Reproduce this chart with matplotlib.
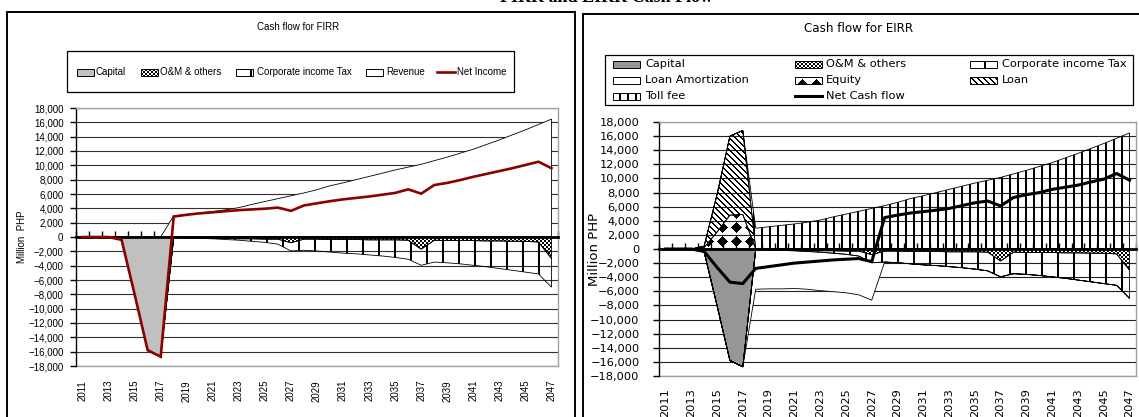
import numpy as np
import matplotlib
matplotlib.use("Agg")
import matplotlib.pyplot as plt
from matplotlib import font_manager
from matplotlib.patches import Rectangle, Polygon

# ---------------------------------------------------------------- data
years = list(range(2011, 2048))

capital = [0, 0, 0, -400, -8000, -15800, -16700] + [0] * 30

om_others = [0, 0, 0, 0, 0, 0, 0,
             -100, -150, -150, -200, -200, -250, -250, -300, -300, -800,
             -300, -300, -350, -350, -350, -400, -400, -400, -450, -1700,
             -450, -500, -500, -500, -550, -550, -600, -600, -700, -3000]

corp_tax = [0, 0, 0, 0, 0, 0, 0,
            0, 0, -50, -50, -150, -200, -350, -450, -700, -1150,
            -1550, -1650, -1750, -1900, -2000, -2100, -2250, -2450, -2650, -2250,
            -3050, -3100, -3250, -3450, -3600, -3850, -4050, -4300, -4450, -4000]

revenue = [0, 0, 0, 0, 0, 0, 0,
           2950, 3150, 3350, 3550, 3800, 4100, 4550, 4950, 5350, 5750,
           6150, 6600, 7150, 7550, 8000, 8450, 8900, 9350, 9750, 10150,
           10650, 11150, 11700, 12250, 12900, 13550, 14250, 14950, 15700, 16450]

net_income = [0, 0, 0, -400, -8000, -15800, -16700,
              2850, 3100, 3300, 3450, 3600, 3750, 3850, 3950, 4100, 3650,
              4400, 4700, 5000, 5250, 5450, 5650, 5900, 6150, 6650, 6050,
              7250, 7550, 7950, 8400, 8800, 9200, 9600, 10050, 10500, 9600]

toll_fee = revenue

loan_amortization = [0] * 7 + [-5600, -5500, -5450, -5350, -5350, -5450,
                               -5450, -5450, -5500, -5300] + [0] * 20

equity = [0, 0, 0, 200, 2400, 4800, 4900] + [0] * 30
loan = [0, 0, 0, 200, 5300, 11200, 11900] + [0] * 30

net_cash_flow = [0, 0, 0, -350, -2600, -4700, -4900,
                 -2750, -2500, -2250, -2000, -1850, -1700, -1550, -1450, -1350, -1800,
                 4450, 4800, 5100, 5300, 5500, 5750, 6150, 6550, 6800, 6100,
                 7300, 7700, 8000, 8450, 8750, 9050, 9500, 9900, 10700, 9750]

yticks = list(range(-18000, 18001, 2000))
year_labels = [str(y) for y in years[::2]]

# ---------------------------------------------------------------- fonts
available = {f.name for f in font_manager.fontManager.ttflist}


def pick(*names):
    for name in names:
        if name in available:
            return name
    return "DejaVu Sans"


NARROW = pick("Liberation Sans Narrow", "Arial Narrow", "Liberation Sans")
FS_L = 8.0 if "Narrow" in NARROW else 7.0
WIDE = "DejaVu Sans"
SERIF = pick("Liberation Serif", "DejaVu Serif")

# ---------------------------------------------------------------- figure
W, H = 1139, 417
fig = plt.figure(figsize=(W / 100, H / 100), dpi=100)
fig.patch.set_facecolor("white")


def fx(x):
    return x / W


def fy(y):
    return 1 - y / H


def axes_px(x0, y0, x1, y1):
    return fig.add_axes([fx(x0), fy(y1), (x1 - x0) / W, (y1 - y0) / H])


def pattern(kind, h, w, background=None):
    yy, xx = np.mgrid[0:h, 0:w]
    if kind == "checker":
        mask = ((xx // 2 + yy // 2) % 2) == 0
    elif kind == "vwide":
        mask = (xx % 16) >= 14
    elif kind == "vnarrow":
        mask = (xx % 8) >= 6
    elif kind == "ddiag":
        mask = ((xx - yy) % 6) < 2
    elif kind == "diamond":
        u = np.abs((xx % 14) - 7)
        v = np.abs((yy % 14) - 7)
        mask = (u + v) <= 5
    else:
        mask = np.zeros((h, w), bool)
    arr = np.zeros((h, w, 4))
    if background is not None:
        arr[..., :3] = background
        arr[..., 3] = 1.0
    arr[mask] = (0, 0, 0, 1)
    return arr


def fmt(v):
    s = f"{abs(v):,}"
    return ("\u2212" + s) if v < 0 else s


def stacked(series_list, x):
    """Cumulative bands; every series is stacked away from zero."""
    base = np.zeros(len(x))
    bands = []
    for s in series_list:
        s = np.asarray(s, float)
        top = base + s
        bands.append((np.minimum(base, top), np.maximum(base, top)))
        base = top
    return bands


def draw_band(ax, x, lo, hi, face=None, kind=None, z=2, pix=None):
    verts = np.vstack([np.column_stack([x, hi]),
                       np.column_stack([x[::-1], lo[::-1]])])
    outline = Polygon(verts, closed=True, facecolor="none",
                      edgecolor="black", lw=0.6, zorder=z + 0.2)
    ax.add_patch(outline)
    if face is not None:
        ax.add_patch(Polygon(verts, closed=True, facecolor=face,
                             edgecolor="none", zorder=z))
    if kind is not None:
        ph, pw = pix
        xl, yl = ax.get_xlim(), ax.get_ylim()
        im = ax.imshow(pattern(kind, ph, pw), extent=(xl[0], xl[1], yl[0], yl[1]),
                       origin="upper", interpolation="nearest", aspect="auto",
                       zorder=z + 0.1)
        im.set_clip_path(outline)
        ax.set_xlim(xl)
        ax.set_ylim(yl)


def setup(ax, font, fs, ypad, xpad, grid_color):
    n = len(years)
    ax.set_xlim(-0.5, n - 0.5)
    ax.set_ylim(-18000, 18000)
    ax.set_yticks(yticks)
    ax.set_yticklabels([fmt(v) for v in yticks], fontfamily=font, fontsize=fs)
    ax.tick_params(axis="y", direction="out", length=4, width=1, pad=ypad,
                   color="black")
    ax.yaxis.grid(True, color=grid_color, lw=0.8)
    ax.set_axisbelow(True)
    ax.spines["left"].set_color("black")
    ax.spines["left"].set_linewidth(1)
    for s in ("top", "right"):
        ax.spines[s].set_color("#a0a0a0")
        ax.spines[s].set_linewidth(1)
    # category axis crossing at zero
    ax.spines["bottom"].set_position(("data", 0))
    ax.spines["bottom"].set_linewidth(2)
    ax.spines["bottom"].set_zorder(4)
    ax.set_xticks(np.arange(-0.5, n))
    ax.tick_params(axis="x", direction="in", length=4, width=1,
                   labelbottom=False)
    sec = ax.secondary_xaxis(0)
    sec.set_xticks(list(range(0, n, 2)))
    sec.set_xticklabels(year_labels, rotation=90, fontfamily=font, fontsize=fs)
    sec.tick_params(length=0, pad=xpad)
    sec.spines["bottom"].set_color("#a0a0a0")
    sec.spines["bottom"].set_linewidth(1)


x = np.arange(len(years))

# ---------------------------------------------------------------- panel frames
fig.add_artist(Rectangle((fx(7), fy(430)), (575 - 7) / W, (430 - 12) / H,
                         transform=fig.transFigure, facecolor="none",
                         edgecolor="black", lw=1.4, zorder=0))
fig.add_artist(Rectangle((fx(583), fy(430)), (1150 - 583) / W, (430 - 14) / H,
                         transform=fig.transFigure, facecolor="none",
                         edgecolor="black", lw=1.4, zorder=0))

fig.text(fx(606), fy(-3), "FIRR and EIRR Cash Flow", ha="center", va="center",
         fontfamily=SERIF, fontweight="bold", fontsize=13)

# ---------------------------------------------------------------- FIRR panel
L = (76, 108, 558, 366)
axL = axes_px(*L)
setup(axL, NARROW, FS_L, 5, 10, "#303030")
pixL = (L[3] - L[1], L[2] - L[0])

neg = stacked([capital, om_others, corp_tax], x)
pos = stacked([revenue], x)
draw_band(axL, x, *neg[0], face="#c0c0c0", z=2)
draw_band(axL, x, *neg[1], kind="checker", z=2.5, pix=pixL)
draw_band(axL, x, *neg[2], kind="vwide", z=2.5, pix=pixL)
draw_band(axL, x, *pos[0], face="white", z=2)
axL.plot(x, net_income, color="#8b0000", lw=1.9, zorder=6,
         solid_joinstyle="miter")

axL.set_ylabel("Million  PHP", fontfamily=NARROW, fontsize=FS_L)
axL.yaxis.set_label_coords((27 - L[0]) / (L[2] - L[0]), 0.5)
fig.text(fx(298), fy(27), "Cash flow for FIRR", ha="center", va="center",
         fontfamily=NARROW, fontsize=FS_L)

# legend (FIRR)
fig.add_artist(Rectangle((fx(67), fy(92)), (514 - 67) / W, (92 - 51) / H,
                         transform=fig.transFigure, facecolor="white",
                         edgecolor="black", lw=0.9, zorder=3))


def icon(xp, yp, w, h, face=None, kind=None):
    if kind is not None:
        fig.figimage(pattern(kind, h, w, background=(1, 1, 1)),
                     xo=xp, yo=H - yp - h, origin="upper", zorder=4)
    fig.add_artist(Rectangle((fx(xp), fy(yp + h)), w / W, h / H,
                             transform=fig.transFigure,
                             facecolor=face if face else "none",
                             edgecolor="black", lw=0.7, zorder=5))


def line_icon(xp, yc, w, color, lw):
    fig.add_artist(plt.Line2D([fx(xp), fx(xp + w)], [fy(yc), fy(yc)],
                              transform=fig.transFigure, color=color, lw=lw,
                              zorder=5))


rowL = 72
legL = [("Capital", 77, 96, dict(face="#c0c0c0")),
        ("O&M & others", 141, 160, dict(kind="checker")),
        ("Corporate income Tax", 236, 257, dict(kind="vwide")),
        ("Revenue", 366, 386, dict(face="white"))]
for label, ix, tx, style in legL:
    icon(ix, rowL - 3, 17, 7, **style)
    fig.text(fx(tx), fy(rowL), label, ha="left", va="center",
             fontfamily=NARROW, fontsize=FS_L, zorder=6)
line_icon(437, rowL, 18, "#8b0000", 1.9)
fig.text(fx(457), fy(rowL), "Net Income", ha="left", va="center",
         fontfamily=NARROW, fontsize=FS_L, zorder=6)

# ---------------------------------------------------------------- EIRR panel
R = (659, 122, 1136, 376)
axR = axes_px(*R)
setup(axR, WIDE, 8.2, 10, 9, "#202020")
pixR = (R[3] - R[1], R[2] - R[0])

negR = stacked([capital, om_others, corp_tax, loan_amortization], x)
posR = stacked([equity, loan, toll_fee], x)
draw_band(axR, x, *negR[0], face="#969696", z=2)
draw_band(axR, x, *negR[1], kind="checker", z=2.5, pix=pixR)
draw_band(axR, x, *negR[2], kind="vwide", z=2.5, pix=pixR)
draw_band(axR, x, *negR[3], face="white", z=2)
draw_band(axR, x, *posR[0], kind="diamond", z=2.5, pix=pixR)
draw_band(axR, x, *posR[1], kind="ddiag", z=2.5, pix=pixR)
draw_band(axR, x, *posR[2], kind="vnarrow", z=2.5, pix=pixR)
axR.plot(x, net_cash_flow, color="black", lw=2.2, zorder=6)

axR.set_ylabel("Million PHP", fontfamily=WIDE, fontsize=9.5)
axR.yaxis.set_label_coords((601 - R[0]) / (R[2] - R[0]), 0.5)
fig.text(fx(859), fy(28), "Cash flow for EIRR", ha="center", va="center",
         fontfamily=WIDE, fontsize=8.6)

fig.add_artist(Rectangle((fx(605), fy(105)), (1133 - 605) / W, (105 - 55) / H,
                         transform=fig.transFigure, facecolor="white",
                         edgecolor="black", lw=0.9, zorder=3))
legR = [("Capital", 0, 0, dict(face="#969696")),
        ("O&M & others", 1, 0, dict(kind="checker")),
        ("Corporate income Tax", 2, 0, dict(kind="vwide")),
        ("Loan Amortization", 0, 1, dict(face="white")),
        ("Equity", 1, 1, dict(kind="diamond")),
        ("Loan", 2, 1, dict(kind="ddiag")),
        ("Toll fee", 0, 2, dict(kind="vnarrow"))]
col_icon = [613, 795, 970]
col_text = [645, 826, 1002]
rows = [64, 80, 96]
for label, c, r, style in legR:
    icon(col_icon[c], rows[r] - 3, 27, 7, **style)
    fig.text(fx(col_text[c]), fy(rows[r]), label, ha="left", va="center",
             fontfamily=WIDE, fontsize=8.2, zorder=6)
line_icon(col_icon[1], rows[2], 27, "black", 2.2)
fig.text(fx(col_text[1]), fy(rows[2]), "Net Cash flow", ha="left", va="center",
         fontfamily=WIDE, fontsize=8.2, zorder=6)

fig.savefig("out.png", dpi=100, facecolor="white")
